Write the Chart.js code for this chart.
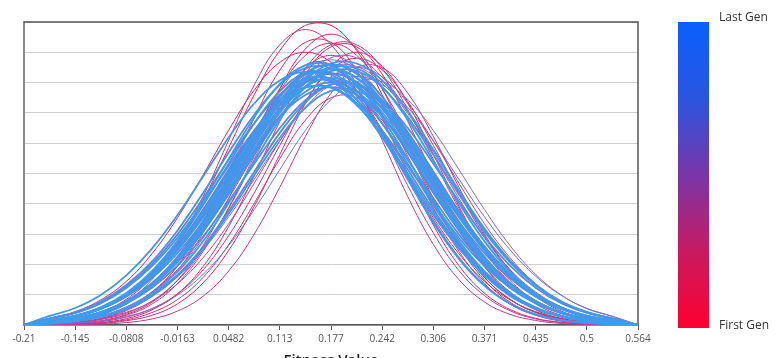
<!DOCTYPE html>
<html>
<head>
<meta charset="utf-8">
<script src="https://cdn.jsdelivr.net/npm/chart.js@4.4.1/dist/chart.umd.min.js"></script>
<style>
  html, body { margin:0; padding:0; width:783px; height:358px; overflow:hidden; background:#fff; }
  #wrap { position:absolute; left:0; top:0; width:783px; height:374px; }
  #bar { position:absolute; left:678px; top:22px; width:31px; height:306px;
         background:linear-gradient(to bottom, #0a60ff 0%, #2a55e0 25%, #7a35a8 50%, #c81a60 75%, #ff0030 100%); }
  .lbl { position:absolute; left:719px; font:12px "Open Sans", "Noto Sans", sans-serif; color:#333; }
</style>
</head>
<body>
<div id="wrap"><canvas id="c"></canvas></div>
<div id="bar"></div>
<div class="lbl" style="top:8px;">Last Gen</div>
<div class="lbl" style="top:316px;">First Gen</div>
<script>
// x sample positions (fitness value)
const xs = [-0.21, -0.17775, -0.1455, -0.11325, -0.081, -0.04875, -0.0165, 0.01575, 0.048, 0.08025, 0.1125, 0.14475, 0.177, 0.20925, 0.2415, 0.27375, 0.306, 0.33825, 0.3705, 0.40275, 0.435, 0.46725, 0.4995, 0.53175, 0.564];
const tickValues = [-0.21, -0.1455, -0.081, -0.0165, 0.048, 0.1125, 0.177, 0.2415, 0.306, 0.3705, 0.435, 0.4995, 0.564];
const tickLabels = ['-0.21','-0.145','-0.0808','-0.0163','0.0482','0.113','0.177','0.242','0.306','0.371','0.435','0.5','0.564'];
const xTitle = 'Fitness Value';

// density curve per generation (first gen first)
const gen01 = [0,.08,.19,.42,.85,1.57,2.66,4.12,5.85,7.60,9.06,9.89,9.89,9.06,7.60,5.85,4.12,2.66,1.57,.85,.42,.19,.08,.03,0];
const gen02 = [0,.22,.44,.83,1.44,2.35,3.54,4.95,6.43,7.75,8.67,9.00,8.67,7.75,6.43,4.95,3.54,2.35,1.44,.83,.44,.22,.10,.04,0];
const gen03 = [0,.02,.05,.14,.35,.75,1.48,2.62,4.18,6.01,7.80,9.11,9.60,9.11,7.80,6.01,4.18,2.62,1.48,.75,.35,.14,.05,.02,0];
const gen04 = [0,.01,.03,.08,.21,.50,1.03,1.93,3.25,4.92,6.72,8.28,9.18,9.18,8.28,6.72,4.92,3.25,1.93,1.03,.50,.21,.08,.03,0];
const gen05 = [0,.03,.09,.22,.51,1.05,1.96,3.30,5.00,6.83,8.41,9.33,9.33,8.41,6.83,5.00,3.30,1.96,1.05,.51,.22,.09,.03,.01,0];
const gen06 = [0,.01,.02,.05,.14,.32,.70,1.39,2.46,3.92,5.63,7.31,8.54,9.00,8.54,7.31,5.63,3.92,2.46,1.39,.70,.32,.14,.05,0];
const gen07 = [0,.05,.11,.27,.57,1.09,1.93,3.12,4.61,6.27,7.80,8.90,9.30,8.90,7.80,6.27,4.61,3.12,1.93,1.09,.57,.27,.11,.05,0];
const gen08 = [0,.03,.07,.18,.39,.79,1.47,2.49,3.85,5.47,7.11,8.47,9.25,9.25,8.47,7.11,5.47,3.85,2.49,1.47,.79,.39,.18,.07,0];
const gen09 = [0,.02,.04,.11,.26,.54,1.03,1.82,2.95,4.36,5.93,7.38,8.42,8.80,8.42,7.38,5.93,4.36,2.95,1.82,1.03,.54,.26,.11,0];
const gen10 = [0,.01,.02,.07,.17,.41,.84,1.57,2.65,4.02,5.49,6.76,7.50,7.50,6.76,5.49,4.02,2.65,1.57,.84,.41,.17,.07,.02,0];
const gen11 = [0,.02,.05,.13,.32,.69,1.37,2.43,3.87,5.57,7.23,8.45,8.90,8.45,7.23,5.57,3.87,2.43,1.37,.69,.32,.13,.05,.02,0];
const gen12 = [0,0,.01,.03,.08,.20,.46,.95,1.78,3.00,4.55,6.22,7.65,8.49,8.49,7.65,6.22,4.55,3.00,1.78,.95,.46,.20,.08,0];
const gen13 = [0,.03,.08,.20,.47,.97,1.80,3.04,4.60,6.29,7.74,8.59,8.59,7.74,6.29,4.60,3.04,1.80,.97,.47,.20,.08,.03,.01,0];
const gen14 = [0,.05,.15,.35,.76,1.50,2.66,4.24,6.10,7.92,9.25,9.75,9.25,7.92,6.10,4.24,2.66,1.50,.76,.35,.15,.05,.02,.01,0];
const gen15 = [0,.04,.09,.20,.42,.78,1.36,2.22,3.34,4.68,6.07,7.32,8.19,8.50,8.19,7.32,6.07,4.68,3.34,2.22,1.36,.78,.42,.20,0];
const gen16 = [0,.06,.14,.30,.60,1.09,1.83,2.87,4.18,5.63,7.05,8.18,8.82,8.82,8.18,7.05,5.63,4.18,2.87,1.83,1.09,.60,.30,.14,0];
const gen17 = [0,.07,.15,.29,.55,.98,1.61,2.48,3.57,4.81,6.08,7.18,7.93,8.20,7.93,7.18,6.08,4.81,3.57,2.48,1.61,.98,.55,.29,0];
const gen18 = [0,.11,.22,.43,.77,1.32,2.11,3.14,4.39,5.72,6.98,7.98,8.53,8.53,7.98,6.98,5.72,4.39,3.14,2.11,1.32,.77,.43,.22,0];
const gen19 = [0,.10,.21,.43,.81,1.40,2.28,3.44,4.81,6.25,7.53,8.43,8.75,8.43,7.53,6.25,4.81,3.44,2.28,1.40,.81,.43,.21,.10,0];
const gen20 = [0,.02,.06,.13,.28,.54,.99,1.67,2.62,3.81,5.13,6.42,7.44,8.03,8.03,7.44,6.42,5.13,3.81,2.62,1.67,.99,.54,.28,0];
const gen21 = [0,.15,.30,.56,.99,1.63,2.51,3.61,4.87,6.15,7.26,8.03,8.30,8.03,7.26,6.15,4.87,3.61,2.51,1.63,.99,.56,.30,.15,0];
const gen22 = [0,.09,.20,.41,.76,1.33,2.17,3.26,4.57,5.93,7.15,7.99,8.30,7.99,7.15,5.93,4.57,3.26,2.17,1.33,.76,.41,.20,.09,0];
const gen23 = [0,.21,.41,.74,1.26,2.01,2.99,4.18,5.45,6.66,7.61,8.13,8.13,7.61,6.66,5.45,4.18,2.99,2.01,1.26,.74,.41,.21,.10,0];
const gen24 = [0,.13,.28,.54,.99,1.67,2.62,3.81,5.13,6.42,7.44,8.03,8.03,7.44,6.42,5.13,3.81,2.62,1.67,.99,.54,.28,.13,.06,0];
const gen25 = [0,.10,.20,.40,.72,1.23,1.96,2.92,4.08,5.32,6.50,7.42,7.94,7.94,7.42,6.50,5.32,4.08,2.92,1.96,1.23,.72,.40,.20,0];
const gen26 = [0,.07,.16,.35,.71,1.31,2.22,3.44,4.88,6.35,7.57,8.26,8.26,7.57,6.35,4.88,3.44,2.22,1.31,.71,.35,.16,.07,.03,0];
const gen27 = [0,.15,.31,.58,1.02,1.69,2.60,3.74,5.05,6.37,7.53,8.32,8.60,8.32,7.53,6.37,5.05,3.74,2.60,1.69,1.02,.58,.31,.15,0];
const gen28 = [0,.06,.13,.27,.54,.98,1.65,2.58,3.76,5.06,6.34,7.35,7.93,7.93,7.35,6.34,5.06,3.76,2.58,1.65,.98,.54,.27,.13,0];
const gen29 = [0,.22,.42,.77,1.32,2.09,3.12,4.36,5.69,6.94,7.93,8.48,8.48,7.93,6.94,5.69,4.36,3.12,2.09,1.32,.77,.42,.22,.11,0];
const gen30 = [0,.09,.19,.39,.74,1.28,2.09,3.14,4.40,5.71,6.89,7.70,8.00,7.70,6.89,5.71,4.40,3.14,2.09,1.28,.74,.39,.19,.09,0];
const gen31 = [0,.14,.28,.53,.93,1.54,2.37,3.41,4.61,5.82,6.87,7.59,7.85,7.59,6.87,5.82,4.61,3.41,2.37,1.54,.93,.53,.28,.14,0];
const gen32 = [0,.13,.29,.56,1.02,1.73,2.71,3.95,5.32,6.65,7.72,8.32,8.32,7.72,6.65,5.32,3.95,2.71,1.73,1.02,.56,.29,.13,.06,0];
const gen33 = [0,.10,.22,.42,.76,1.30,2.07,3.08,4.31,5.62,6.86,7.84,8.38,8.38,7.84,6.86,5.62,4.31,3.08,2.07,1.30,.76,.42,.22,0];
const gen34 = [0,.09,.21,.42,.79,1.38,2.24,3.38,4.73,6.14,7.40,8.28,8.60,8.28,7.40,6.14,4.73,3.38,2.24,1.38,.79,.42,.21,.09,0];
const gen35 = [0,.20,.39,.71,1.22,1.94,2.88,4.03,5.25,6.41,7.33,7.84,7.84,7.33,6.41,5.25,4.03,2.88,1.94,1.22,.71,.39,.20,.10,0];
const gen36 = [0,.05,.12,.27,.52,.95,1.61,2.52,3.67,4.94,6.18,7.17,7.73,7.73,7.17,6.18,4.94,3.67,2.52,1.61,.95,.52,.27,.12,0];
const gen37 = [0,.15,.29,.55,.97,1.60,2.46,3.55,4.78,6.04,7.13,7.88,8.15,7.88,7.13,6.04,4.78,3.55,2.46,1.60,.97,.55,.29,.15,0];
const gen38 = [0,.07,.16,.34,.70,1.29,2.18,3.38,4.80,6.23,7.43,8.11,8.11,7.43,6.23,4.80,3.38,2.18,1.29,.70,.34,.16,.07,.02,0];
const gen39 = [0,.30,.56,.99,1.64,2.52,3.63,4.90,6.19,7.31,8.07,8.35,8.07,7.31,6.19,4.90,3.63,2.52,1.64,.99,.56,.30,.15,.07,0];
const gen40 = [0,.09,.20,.41,.78,1.35,2.21,3.32,4.65,6.03,7.28,8.14,8.45,8.14,7.28,6.03,4.65,3.32,2.21,1.35,.78,.41,.20,.09,0];
const gen41 = [0,.11,.22,.43,.78,1.34,2.13,3.18,4.44,5.79,7.06,8.07,8.63,8.63,8.07,7.06,5.79,4.44,3.18,2.13,1.34,.78,.43,.22,0];
const gen42 = [0,.13,.27,.53,.96,1.63,2.55,3.71,5.00,6.26,7.26,7.83,7.83,7.26,6.26,5.00,3.71,2.55,1.63,.96,.53,.27,.13,.06,0];
const gen43 = [0,.15,.30,.57,1.01,1.66,2.55,3.68,4.96,6.26,7.39,8.17,8.45,8.17,7.39,6.26,4.96,3.68,2.55,1.66,1.01,.57,.30,.15,0];
const gen44 = [0,.09,.20,.40,.75,1.30,2.13,3.20,4.48,5.82,7.02,7.85,8.15,7.85,7.02,5.82,4.48,3.20,2.13,1.30,.75,.40,.20,.09,0];
const gen45 = [0,.06,.14,.29,.57,1.04,1.76,2.76,4.02,5.41,6.77,7.86,8.47,8.47,7.86,6.77,5.41,4.02,2.76,1.76,1.04,.57,.29,.14,0];
const gen46 = [0,.14,.29,.58,1.06,1.78,2.79,4.07,5.48,6.85,7.95,8.57,8.57,7.95,6.85,5.48,4.07,2.79,1.78,1.06,.58,.29,.14,.06,0];

const generations = [gen01,gen02,gen03,gen04,gen05,gen06,gen07,gen08,gen09,gen10,gen11,gen12,
  gen13,gen14,gen15,gen16,gen17,gen18,gen19,gen20,gen21,gen22,gen23,gen24,gen25,gen26,gen27,
  gen28,gen29,gen30,gen31,gen32,gen33,gen34,gen35,gen36,gen37,gen38,gen39,gen40,gen41,gen42,
  gen43,gen44,gen45,gen46];

const N = generations.length;
const firstCol = [228, 28, 98], midCol = [150, 90, 185], lastCol = [58, 158, 240];
function genT(g) {
  if (g < 14) return g / 14 * 0.3;
  if (g < 20) return 0.38 + (g - 14) * 0.06;
  return 0.82 + (g - 20) / (N - 21) * 0.18;
}
function colorAt(t) {
  let a, b, u;
  if (t < 0.5) { a = firstCol; b = midCol; u = t / 0.5; } else { a = midCol; b = lastCol; u = (t - 0.5) / 0.5; }
  const c = a.map((v, k) => Math.round(v + (b[k] - v) * u));
  return `rgb(${c[0]},${c[1]},${c[2]})`;
}

const datasets = generations.map((vals, g) => ({
  label: 'Gen ' + (g + 1),
  data: vals.map((y, i) => ({ x: xs[i], y })),
  borderColor: colorAt(genT(g)),
  borderWidth: g >= 20 ? 1.8 : 1,
  pointRadius: 0,
  fill: false,
  tension: 0.4,
  order: N - 1 - g
}));

const frame = {
  id: 'frame',
  beforeDatasetsDraw(chart) {
    const { ctx, chartArea: a } = chart;
    ctx.save();
    ctx.strokeStyle = '#555';
    ctx.lineWidth = 1.5;
    ctx.beginPath();
    ctx.moveTo(a.left, a.top); ctx.lineTo(a.right, a.top); ctx.lineTo(a.right, a.bottom);
    ctx.stroke();
    ctx.restore();
  }
};

new Chart(document.getElementById('c'), {
  type: 'line',
  data: { datasets },
  plugins: [frame],
  options: {
    responsive: true, maintainAspectRatio: false, animation: false, devicePixelRatio: 1,
    layout: { padding: { left: 24, right: 145, top: 22, bottom: 0 } },
    plugins: { legend: { display: false }, tooltip: { enabled: false } },
    scales: {
      x: {
        type: 'linear', min: -0.21, max: 0.564,
        afterBuildTicks: s => { s.ticks = tickValues.map(v => ({ value: v })); },
        ticks: {
          autoSkip: false, maxRotation: 0, padding: 3,
          font: { family: '"Open Sans", "Noto Sans", sans-serif', size: 10 }, color: '#555',
          callback: (v, i) => tickLabels[i]
        },
        grid: { display: true, drawOnChartArea: false, tickLength: 5, color: '#555' },
        border: { display: true, color: '#555', width: 1.5 },
        title: { display: true, text: xTitle, color: '#222',
                 font: { family: '"Open Sans", "Noto Sans", sans-serif', size: 15, weight: '600' } }
      },
      y: {
        min: 0, max: 10,
        ticks: { display: false, stepSize: 1 },
        grid: { color: '#cfcfcf', drawTicks: false, lineWidth: 1 },
        border: { display: true, color: '#8a8a8a', width: 2 }
      }
    }
  }
});
</script>
</body>
</html>
